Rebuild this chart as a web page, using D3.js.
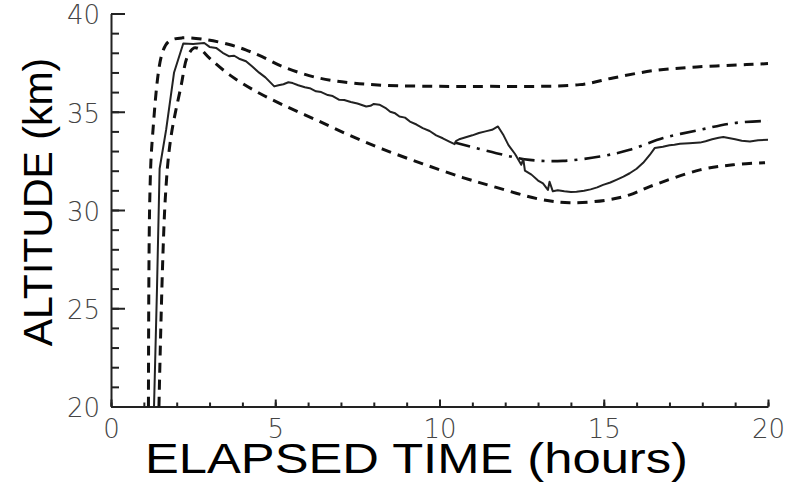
<!DOCTYPE html>
<html>
<head>
<meta charset="utf-8">
<script src="https://cdn.jsdelivr.net/npm/d3@7"></script>
<style>
  body { margin: 0; background: #fff; }
  svg { display: block; }
</style>
</head>
<body>
<div id="chart"></div>
<script>
// measured flight altitude (solid line)
var solidHours = [1.31, 1.40, 1.48, 1.68, 1.92, 2.20, 2.50, 2.84, 3.0, 3.2, 3.4, 3.6, 3.75, 3.9, 4.11, 4.3, 4.51, 4.7, 4.97, 5.1, 5.25, 5.4, 5.53, 5.7, 5.9, 6.05, 6.24, 6.4, 6.6, 6.75, 6.95, 7.1, 7.3, 7.5, 7.77, 7.9, 8.0, 8.17, 8.35, 8.5, 8.65, 8.78, 8.95, 9.1, 9.3, 9.49, 9.7, 9.9, 10.1, 10.30, 10.46, 10.5, 10.6, 10.8, 11.0, 11.2, 11.4, 11.6, 11.78, 11.95, 12.1, 12.3, 12.49, 12.55, 12.6, 12.8, 13.0, 13.15, 13.30, 13.35, 13.45, 13.6, 13.8, 14.0, 14.17, 14.4, 14.6, 14.8, 14.98, 15.2, 15.4, 15.6, 15.79, 16.0, 16.2, 16.4, 16.55, 16.8, 17.0, 17.15, 17.32, 17.6, 17.93, 18.1, 18.3, 18.5, 18.64, 18.8, 19.0, 19.2, 19.45, 19.7, 20.0];
var solidAlt = [20.0, 26.0, 32.1, 34.1, 37.0, 38.47, 38.45, 38.5, 38.3, 38.25, 38.0, 37.82, 37.85, 37.7, 37.57, 37.3, 36.99, 36.75, 36.29, 36.35, 36.4, 36.5, 36.46, 36.35, 36.25, 36.2, 36.04, 36.0, 35.85, 35.8, 35.61, 35.6, 35.5, 35.42, 35.27, 35.3, 35.4, 35.36, 35.2, 35.0, 34.92, 34.76, 34.7, 34.5, 34.35, 34.17, 34.02, 33.8, 33.65, 33.48, 33.35, 33.5, 33.6, 33.7, 33.8, 33.92, 34.0, 34.08, 34.25, 33.8, 33.3, 32.85, 32.3, 32.6, 32.0, 31.8, 31.5, 31.35, 31.02, 31.44, 30.95, 31.0, 30.95, 30.92, 30.93, 30.98, 31.05, 31.15, 31.28, 31.4, 31.55, 31.7, 31.87, 32.1, 32.4, 32.8, 33.15, 33.22, 33.3, 33.32, 33.37, 33.4, 33.43, 33.5, 33.6, 33.68, 33.71, 33.66, 33.6, 33.52, 33.49, 33.55, 33.57];

// upper envelope (dashed)
var upperHours = [1.14, 1.18, 1.26, 1.56, 1.77, 2.17, 2.89, 3.60, 4.10, 4.60, 5.22, 6.24, 7.26, 8.27, 10.30, 11.22, 14.27, 15.28, 16.50, 17.83, 19.35, 20.0];
var upperAlt = [20.0, 30.5, 33.67, 37.99, 38.59, 38.76, 38.67, 38.42, 38.15, 37.8, 37.3, 36.75, 36.48, 36.35, 36.29, 36.29, 36.38, 36.72, 37.09, 37.28, 37.40, 37.45];

// lower envelope (dashed)
var lowerHours = [1.46, 1.65, 1.82, 2.13, 2.33, 2.53, 2.73, 2.99, 3.60, 4.41, 5.22, 6.24, 7.26, 8.27, 9.49, 10.71, 11.73, 13.05, 13.96, 15.08, 15.79, 16.40, 17.93, 18.94, 19.91];
var lowerAlt = [20.0, 30.51, 33.66, 36.29, 37.82, 38.25, 38.16, 37.74, 36.89, 36.04, 35.36, 34.59, 33.8, 33.1, 32.35, 31.65, 31.15, 30.55, 30.37, 30.5, 30.77, 31.19, 32.04, 32.30, 32.41];

// forecast (dash-dot)
var modelHours = [10.46, 11.73, 12.74, 13.76, 14.88, 15.79, 16.81, 17.93, 18.94, 20.0];
var modelAlt = [33.44, 32.89, 32.55, 32.50, 32.72, 33.06, 33.66, 34.08, 34.42, 34.54];

var xTicks = [0, 5, 10, 15, 20];
var yTicks = [20, 25, 30, 35, 40];

var width = 787, height = 483;

var svg = d3.select("#chart").append("svg")
    .attr("width", width)
    .attr("height", height);

var x = d3.scaleLinear().domain([0, 20]).range([111, 768]);
var y = d3.scaleLinear().domain([20, 40]).range([406.5, 13.5]);

function pairs(xs, ys) {
    return xs.map(function (d, i) { return [d, ys[i]]; });
}

// minor ticks first
svg.append("g")
    .attr("transform", "translate(" + x(0) + ",0)")
    .call(d3.axisLeft(y).tickValues(d3.range(20, 41)).tickSizeInner(-8).tickSizeOuter(0).tickFormat(""))
    .call(function (g) { g.select(".domain").remove(); });

svg.append("g")
    .attr("transform", "translate(0," + y(20) + ")")
    .call(d3.axisBottom(x).tickValues(d3.range(0, 21)).tickSizeInner(-4).tickSizeOuter(0).tickFormat(""))
    .call(function (g) { g.select(".domain").remove(); });

// major axes
var yAxis = svg.append("g")
    .attr("transform", "translate(" + x(0) + ",0)")
    .call(d3.axisLeft(y).tickValues(yTicks).tickSizeInner(-14).tickSizeOuter(0).tickPadding(11));

var xAxis = svg.append("g")
    .attr("transform", "translate(0," + y(20) + ")")
    .call(d3.axisBottom(x).tickValues(xTicks).tickSizeInner(-7).tickSizeOuter(0).tickPadding(13));

svg.selectAll(".tick line, .domain")
    .attr("stroke", "#222")
    .attr("stroke-width", 2);

svg.selectAll(".tick text")
    .attr("fill", "#444")
    .style("font-family", "'DejaVu Sans', sans-serif")
    .style("font-weight", "300")
    .style("font-size", "26px");

// keep the top label inside the page
yAxis.selectAll(".tick text").attr("dy", "0.4em");

var line = d3.line()
    .x(function (d) { return x(d[0]); })
    .y(function (d) { return y(d[1]); });

var smooth = d3.line()
    .curve(d3.curveCatmullRom.alpha(0.5))
    .x(function (d) { return x(d[0]); })
    .y(function (d) { return y(d[1]); });

svg.append("path")
    .datum(pairs(upperHours, upperAlt))
    .attr("d", smooth)
    .attr("fill", "none")
    .attr("stroke", "#111")
    .attr("stroke-width", 3)
    .attr("stroke-dasharray", "10,7");

svg.append("path")
    .datum(pairs(lowerHours, lowerAlt))
    .attr("d", smooth)
    .attr("fill", "none")
    .attr("stroke", "#111")
    .attr("stroke-width", 3)
    .attr("stroke-dasharray", "10,7");

svg.append("path")
    .datum(pairs(modelHours, modelAlt))
    .attr("d", smooth)
    .attr("fill", "none")
    .attr("stroke", "#111")
    .attr("stroke-width", 2.6)
    .attr("stroke-dasharray", "16,7,3,7");

svg.append("path")
    .datum(pairs(solidHours, solidAlt))
    .attr("d", line)
    .attr("fill", "none")
    .attr("stroke", "#222")
    .attr("stroke-width", 2)
    .attr("stroke-linejoin", "round");

// axis titles
svg.append("text")
    .attr("x", 145)
    .attr("y", 473)
    .attr("textLength", 543)
    .attr("lengthAdjust", "spacingAndGlyphs")
    .style("font-family", "'Liberation Sans', Arial, sans-serif")
    .style("font-size", "43px")
    .attr("fill", "#000")
    .text("ELAPSED TIME (hours)");

svg.append("text")
    .attr("transform", "translate(52,202) rotate(-90)")
    .attr("text-anchor", "middle")
    .style("font-family", "'Liberation Sans', Arial, sans-serif")
    .style("font-size", "41px")
    .attr("fill", "#000")
    .text("ALTITUDE (km)");
</script>
</body>
</html>
